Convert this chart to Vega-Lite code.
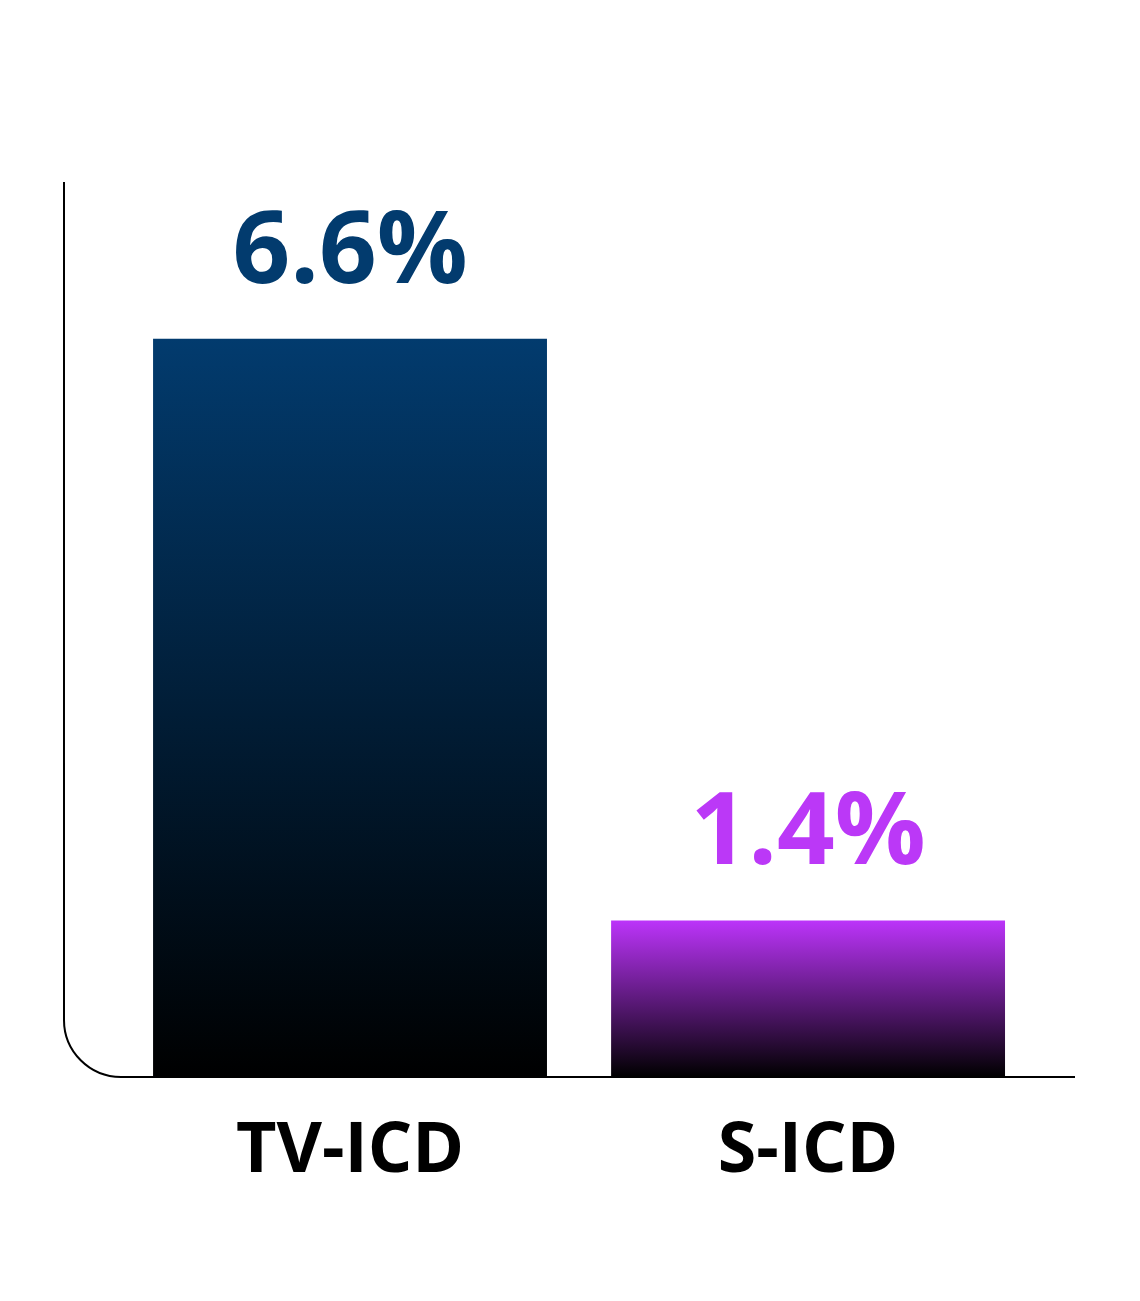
{
  "$schema": "https://vega.github.io/schema/vega-lite/v6.json",
  "autosize": {"type": "none"},
  "width": 1011,
  "height": 895,
  "padding": {"left": 64, "top": 182, "right": 65, "bottom": 224},
  "background": "white",
  "config": {"view": {"stroke": null}, "font": "Open Sans"},
  "data": {
    "values": [
      {"device": "TV-ICD", "rate": 0.066},
      {"device": "S-ICD", "rate": 0.014}
    ]
  },
  "resolve": {"scale": {"x": "independent"}},
  "layer": [
    {
      "data": {"values": [{"frame": "axis"}]},
      "mark": {
        "type": "rect",
        "fillOpacity": 0,
        "stroke": "black",
        "strokeWidth": 2,
        "cornerRadiusBottomLeft": 57,
        "strokeDash": [0, 1906, 2200]
      },
      "encoding": {
        "x": {"datum": 0, "type": "quantitative", "scale": {"domain": [0, 1]}, "axis": null},
        "x2": {"datum": 1},
        "y": {"datum": 0, "type": "quantitative", "scale": {"domain": [0, 0.08]}, "axis": null},
        "y2": {"datum": 0.08}
      }
    },
    {
      "layer": [
        {
          "transform": [{"filter": "datum.device === 'TV-ICD'"}],
          "mark": {
            "type": "bar",
            "color": {
              "gradient": "linear", "x1": 0, "y1": 0, "x2": 0, "y2": 1,
              "stops": [{"offset": 0, "color": "#023B6E"}, {"offset": 1, "color": "#000000"}]
            }
          },
          "encoding": {
            "y": {"field": "rate", "type": "quantitative"}
          }
        },
        {
          "transform": [{"filter": "datum.device === 'S-ICD'"}],
          "mark": {
            "type": "bar",
            "color": {
              "gradient": "linear", "x1": 0, "y1": 0, "x2": 0, "y2": 1,
              "stops": [{"offset": 0, "color": "#BC34FA"}, {"offset": 1, "color": "#000000"}]
            }
          },
          "encoding": {
            "y": {"field": "rate", "type": "quantitative"}
          }
        },
        {
          "mark": {
            "type": "text",
            "baseline": "alphabetic",
            "dy": -56,
            "fontSize": 101,
            "fontWeight": "bold"
          },
          "encoding": {
            "y": {"field": "rate", "type": "quantitative"},
            "text": {"field": "rate", "type": "quantitative", "format": ".1%"},
            "color": {
              "field": "device",
              "type": "nominal",
              "scale": {"domain": ["TV-ICD", "S-ICD"], "range": ["#023B6E", "#BB38F7"]},
              "legend": null
            }
          }
        }
      ],
      "encoding": {
        "x": {
          "field": "device",
          "type": "nominal",
          "sort": ["TV-ICD", "S-ICD"],
          "scale": {"paddingInner": 0.14, "paddingOuter": 0.1736, "align": 0.56},
          "axis": {
            "title": null,
            "domain": false,
            "ticks": false,
            "tickSize": 0,
            "labelAngle": 0,
            "labelLimit": 0,
            "labelFontSize": 70,
            "labelFontWeight": "bold",
            "labelColor": "black",
            "labelBaseline": "alphabetic",
            "labelPadding": 94
          }
        }
      }
    }
  ]
}
